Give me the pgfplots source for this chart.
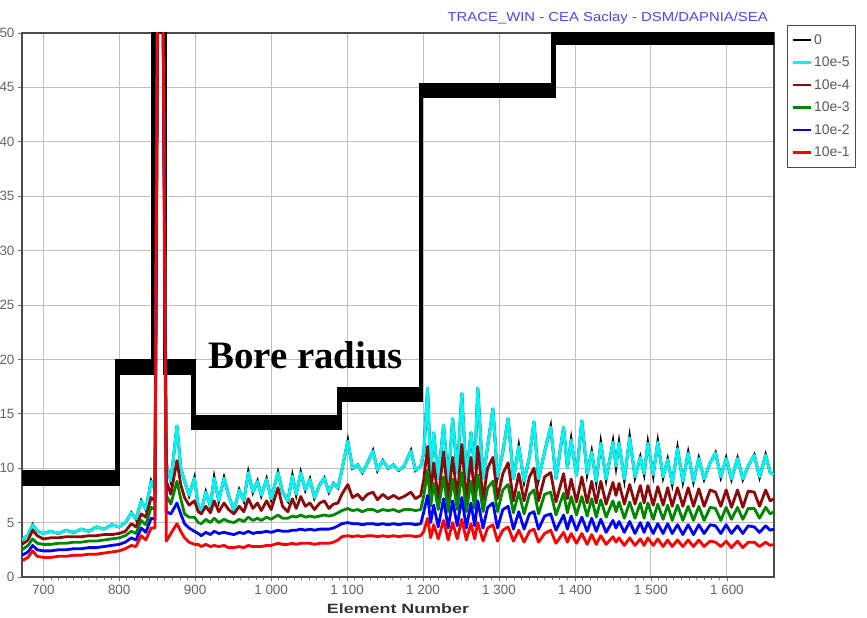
\documentclass[border=0pt]{standalone}
\usepackage{fontspec}
\setmainfont{Liberation Sans}
\newfontfamily\boreserif{Liberation Serif}
\usepackage{pgfplots}
\pgfplotsset{compat=1.18}
\usepackage{pgfplotstable}

\definecolor{ccyan}{RGB}{0,245,245}
\definecolor{cbrown}{RGB}{140,10,10}
\definecolor{cgreen}{RGB}{0,135,0}
\definecolor{cblue}{RGB}{0,0,255}
\definecolor{cred}{RGB}{255,0,0}
\definecolor{ctitle}{RGB}{70,70,255}

% bore radius (steps)
\pgfplotstableread{
x y
672 9.1
798 9.1
798 19.3
845 19.3
845 50.6
860 50.6
860 19.3
898 19.3
898 14.2
1090 14.2
1090 16.8
1197 16.8
1197 44.7
1372 44.7
1372 49.6
1662 49.6
}\bore

% envelopes: c=10e-5, b=10e-4, g=10e-3, u=10e-2, r=10e-1
\pgfplotstableread{
x c b g u r
672 3.4 3.0 2.5 2.0 1.5
680 3.9 3.4 2.9 2.3 1.8
686 4.8 4.3 3.5 2.9 2.4
692 4.2 3.8 3.1 2.5 1.9
700 4.0 3.5 3.0 2.4 1.8
710 4.2 3.6 3.0 2.4 1.8
720 4.0 3.6 3.1 2.5 1.9
730 4.3 3.7 3.1 2.5 1.9
740 4.1 3.7 3.2 2.6 2.0
750 4.4 3.7 3.2 2.6 2.0
760 4.2 3.8 3.3 2.7 2.1
770 4.6 3.8 3.3 2.7 2.1
780 4.4 3.9 3.4 2.8 2.2
790 4.8 3.9 3.5 2.9 2.3
800 4.6 4.0 3.6 3.0 2.4
808 5.0 4.2 3.8 3.2 2.6
816 5.9 4.9 4.2 3.6 2.9
822 5.3 4.6 4.0 3.4 2.8
829 7.0 5.8 5.2 4.5 3.8
835 6.2 5.5 4.8 4.1 3.4
842 8.8 7.3 6.4 5.4 4.5
847 8.0 7.0 6.2 5.3 4.5
851 60 60 60 60 60
857 60 60 60 60 60
862 10.4 8.8 7.5 6.0 3.3
868 8.8 7.6 6.7 5.8 4.0
876 13.9 10.7 8.8 6.8 4.9
881 10.0 8.5 7.2 5.8 4.2
886 8.8 7.3 5.8 4.9 3.6
892 7.5 6.6 5.5 4.5 3.2
899 9.1 7.0 5.5 4.2 3.0
904 6.5 6.0 5.0 4.0 3.0
908 6.1 5.8 4.9 3.8 2.8
914 7.8 6.5 5.3 4.1 3.0
920 6.5 5.9 5.0 3.9 2.8
925 9.1 7.0 5.4 4.2 2.9
931 7.0 6.0 5.0 4.0 2.8
938 9.1 6.8 5.3 4.1 2.9
944 7.5 6.2 5.1 4.0 2.7
951 6.1 5.8 5.0 3.9 2.7
958 8.0 6.5 5.3 4.1 2.8
964 7.0 6.0 5.1 4.0 2.7
970 9.6 7.2 5.5 4.2 2.9
976 7.8 6.3 5.2 4.0 2.8
982 8.8 6.8 5.4 4.1 2.8
987 7.5 6.1 5.2 4.1 2.8
994 9.0 7.0 5.5 4.2 2.9
1000 7.2 6.2 5.3 4.1 2.9
1009 9.6 8.2 5.7 4.3 3.1
1015 7.8 6.5 5.4 4.2 3.0
1022 7.0 6.0 5.4 4.2 3.0
1028 9.3 7.2 5.6 4.3 3.1
1033 7.6 6.3 5.5 4.3 3.0
1039 9.6 7.4 5.7 4.4 3.1
1045 8.0 6.5 5.5 4.3 3.1
1051 9.0 6.8 5.6 4.4 3.1
1057 7.3 6.2 5.5 4.3 3.0
1064 8.5 6.8 5.6 4.4 3.1
1070 9.1 7.0 5.7 4.4 3.1
1076 7.8 6.3 5.6 4.4 3.1
1082 8.6 6.7 5.7 4.5 3.2
1088 8.2 6.8 5.9 4.7 3.4
1093 9.8 7.6 6.1 4.9 3.7
1101 12.5 8.5 6.3 5.0 3.8
1107 10.0 7.3 6.1 4.9 3.7
1114 10.3 7.6 6.2 4.9 3.8
1120 9.6 7.1 6.0 4.8 3.7
1127 10.5 7.6 6.2 4.9 3.8
1134 11.6 7.8 6.2 4.9 3.8
1140 9.8 7.1 6.0 4.8 3.7
1147 10.7 7.6 6.2 4.9 3.8
1154 10.0 7.2 6.1 4.8 3.7
1161 10.3 7.5 6.2 4.9 3.8
1168 9.8 7.2 6.0 4.8 3.7
1175 10.2 7.4 6.2 4.9 3.8
1184 11.6 7.8 6.2 4.9 3.8
1190 9.8 7.2 6.1 4.8 3.7
1197 10.2 7.5 6.2 4.9 3.8
1201 11.5 9.0 7.5 6.0 4.2
1206 17.4 12.0 9.8 7.5 5.4
1210 9.5 7.5 6.5 5.0 3.6
1214 13.3 10.5 8.6 6.6 4.8
1220 9.0 7.2 6.2 4.6 3.5
1227 14.0 11.5 9.2 7.2 5.2
1233 8.8 7.2 6.0 4.5 3.4
1239 14.6 11.0 9.0 7.0 5.0
1245 9.5 7.3 6.2 4.7 3.5
1251 16.9 12.2 9.6 7.3 5.3
1257 9.0 7.0 6.0 4.5 3.4
1263 13.3 11.0 8.8 6.8 4.9
1268 10.0 7.5 6.3 4.7 3.5
1272 17.4 12.0 9.4 7.0 5.0
1279 9.0 7.1 6.0 4.5 3.3
1285 12.0 10.0 8.2 6.4 4.5
1292 15.5 11.0 8.8 6.8 4.8
1298 9.2 7.2 6.0 4.5 3.3
1305 11.5 9.5 8.0 6.2 4.3
1312 14.6 10.5 8.5 6.5 4.6
1319 9.0 7.0 5.9 4.4 3.3
1326 12.0 9.5 7.8 6.0 4.3
1333 8.8 7.0 5.8 4.4 3.2
1340 11.0 9.2 7.6 5.8 4.2
1346 14.3 10.0 8.0 6.0 4.4
1352 9.0 7.0 5.8 4.4 3.2
1360 11.5 9.2 7.6 5.6 4.0
1368 13.8 9.6 7.8 5.8 4.3
1375 9.0 6.9 5.7 4.3 3.1
1385 13.8 9.5 7.7 5.7 4.1
1390 10.0 7.2 5.9 4.4 3.2
1395 12.6 9.0 7.4 5.6 4.0
1402 9.3 6.9 5.7 4.3 3.1
1409 14.4 9.2 7.4 5.5 4.0
1416 9.5 6.8 5.6 4.2 3.0
1422 11.5 8.8 7.2 5.4 3.9
1428 8.8 6.8 5.5 4.2 3.0
1434 12.3 8.8 7.1 5.3 3.8
1441 9.0 6.7 5.5 4.1 3.0
1450 12.4 8.7 7.0 5.2 3.7
1454 10.2 7.5 6.0 4.5 3.2
1458 12.3 8.6 6.9 5.1 3.6
1465 9.0 6.7 5.4 4.1 2.9
1472 12.8 8.5 6.9 5.1 3.6
1479 9.2 6.7 5.4 4.0 2.9
1486 11.0 8.4 6.8 5.0 3.5
1491 9.5 6.8 5.4 4.1 2.9
1496 12.3 8.4 6.8 5.0 3.6
1503 9.4 6.6 5.3 4.0 2.9
1509 12.4 8.3 6.7 4.9 3.5
1516 9.2 6.6 5.3 4.0 2.8
1522 10.8 8.2 6.6 4.9 3.4
1528 8.6 6.5 5.2 4.0 2.8
1535 11.8 8.2 6.6 4.8 3.4
1542 8.8 6.5 5.2 3.9 2.8
1549 11.4 8.2 6.5 4.8 3.4
1556 8.8 6.5 5.2 3.9 2.8
1563 10.9 8.1 6.5 4.8 3.4
1570 9.0 6.5 5.2 4.0 2.8
1578 10.5 8.0 6.4 4.8 3.3
1585 11.4 7.8 6.3 4.7 3.2
1592 9.2 6.5 5.2 4.0 2.8
1599 10.9 8.0 6.4 4.8 3.3
1606 9.0 6.4 5.3 4.0 2.7
1614 10.9 8.0 6.4 4.7 3.3
1621 9.0 6.4 5.3 4.0 2.7
1628 10.2 7.9 6.3 4.7 3.2
1636 11.2 7.8 6.3 4.6 3.2
1643 9.2 6.5 5.4 4.1 2.8
1651 11.2 8.0 6.4 4.7 3.2
1657 9.6 7.0 5.8 4.3 2.9
1662 9.4 7.2 6.0 4.4 3.0
}\envel

\begin{document}
\begin{tikzpicture}
\useasboundingbox (-22bp,-41bp) rectangle (845bp,577bp);
\begin{axis}[
  scale only axis,
  width=752bp, height=544bp,
  xmin=672, xmax=1662, ymin=0, ymax=50,
  xtick={700,800,...,1600},
  ytick={0,5,...,50},
  minor x tick num=9,
  grid=major,
  grid style={black!25, line width=0.9bp},
  axis line style={draw=black!70, line width=1.6bp},
  tick style={black!55, line width=0.7bp},
  major tick length=4bp, minor tick length=2.5bp,
  tick align=outside,
  xtick pos=bottom, ytick pos=left,
  ticklabel style={font=\fontsize{13.5}{14}\selectfont, text=black!60},
  /pgf/number format/assume math mode=true,
  /pgf/number format/1000 sep={\ },
  xticklabel style={yshift=-1bp},
  legend style={at={(rel axis cs:1.017,1.015)}, anchor=north west,
    draw=black!70, line width=1bp, font=\fontsize{14}{14}\selectfont,
    text=black!65, row sep=7.3bp, inner xsep=4bp, inner ysep=7bp},
  legend cell align=left,
  legend image code/.code={\draw[#1] (0bp,0bp) -- (18bp,0bp);},
]
% bore radius: thick band drawn as offset strokes
\addplot[black, line width=4.5bp, forget plot] table[x=x, y expr=\thisrow{y}-0.5]{\bore};
\addplot[black, line width=4.5bp, forget plot] table[x=x, y expr=\thisrow{y}-0.25]{\bore};
\addplot[black, line width=4.5bp, forget plot] table[x=x, y=y]{\bore};
\addplot[black, line width=4.5bp, forget plot] table[x=x, y expr=\thisrow{y}+0.25]{\bore};
\addplot[black, line width=4.5bp, forget plot] table[x=x, y expr=\thisrow{y}+0.5]{\bore};

\addplot[black, line width=2.8bp, line join=miter, miter limit=8] table[x=x, y=c]{\envel};
\addlegendentry{0}
\addplot[ccyan, line width=2.8bp, line join=round] table[x=x, y=c]{\envel};
\addlegendentry{10e-5}
\addplot[cbrown, line width=2.8bp, line join=round] table[x=x, y=b]{\envel};
\addlegendentry{10e-4}
\addplot[cgreen, line width=2.8bp, line join=round] table[x=x, y=g]{\envel};
\addlegendentry{10e-3}
\addplot[cblue, line width=2.8bp, line join=round] table[x=x, y=u]{\envel};
\addlegendentry{10e-2}
\addplot[cred, line width=2.8bp, line join=round] table[x=x, y=r]{\envel};
\addlegendentry{10e-1}

\node[anchor=base west, inner sep=0pt, font=\boreserif\bfseries\fontsize{39}{39}\selectfont]
  at (axis cs:917,19.2) {Bore radius};
\end{axis}
\node[anchor=base east, inner sep=0pt, text=ctitle, font=\fontsize{13}{13}\selectfont]
  at (746bp,555bp) {\scalebox{1.15}[1]{TRACE\_WIN - CEA Saclay - DSM/DAPNIA/SEA}};
\node[anchor=base, inner sep=0pt, font=\bfseries\fontsize{13.5}{14}\selectfont, text=black!80]
  at (376bp,-36bp) {\scalebox{1.33}[1]{Element Number}};
\end{tikzpicture}
\end{document}
